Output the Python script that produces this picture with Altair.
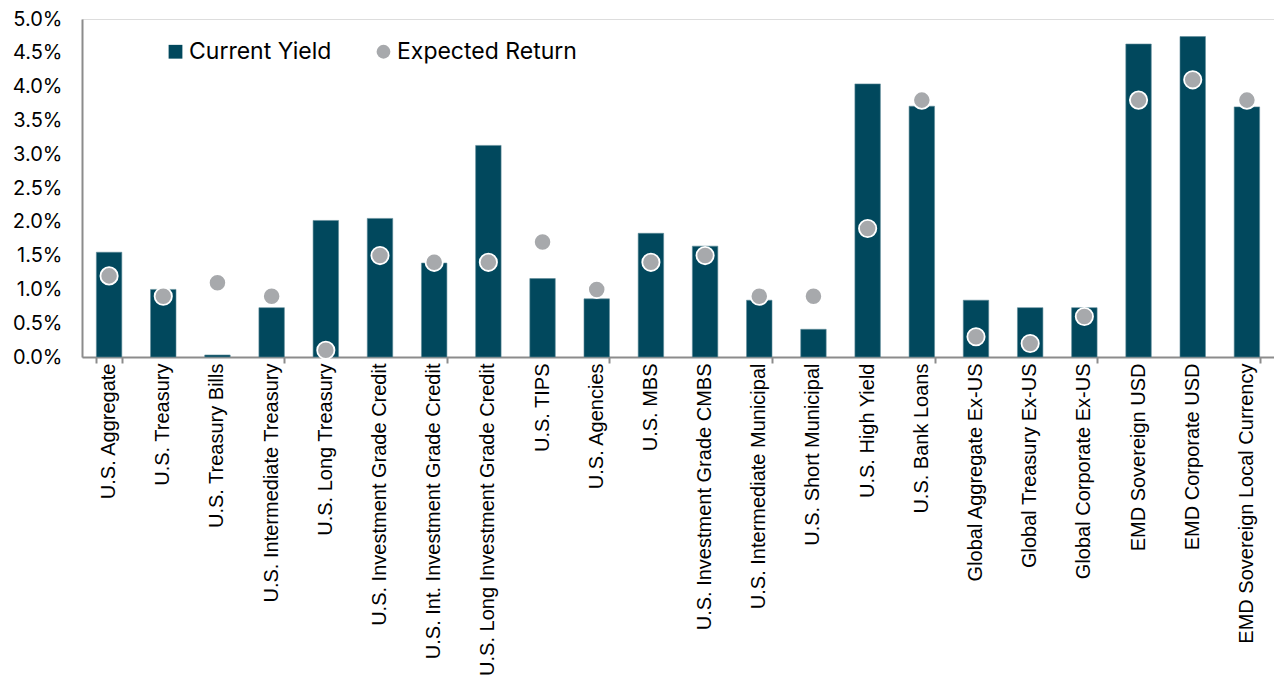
import altair as alt
import pandas as pd

categories = [
    "U.S. Aggregate", "U.S. Treasury", "U.S. Treasury Bills", "U.S. Intermediate Treasury",
    "U.S. Long Treasury", "U.S. Investment Grade Credit", "U.S. Int. Investment Grade Credit",
    "U.S. Long Investment Grade Credit", "U.S. TIPS", "U.S. Agencies", "U.S. MBS",
    "U.S. Investment Grade CMBS", "U.S. Intermediate Municipal", "U.S. Short Municipal",
    "U.S. High Yield", "U.S. Bank Loans", "Global Aggregate Ex-US", "Global Treasury Ex-US",
    "Global Corporate Ex-US", "EMD Sovereign USD", "EMD Corporate USD",
    "EMD Sovereign Local Currency",
]
current_yield = [1.55, 1.0, 0.03, 0.73, 2.02, 2.05, 1.39, 3.13, 1.16, 0.86, 1.83,
                 1.64, 0.84, 0.41, 4.04, 3.71, 0.84, 0.73, 0.73, 4.63, 4.74, 3.70]
expected_return = [1.2, 0.9, 1.1, 0.9, 0.1, 1.5, 1.4, 1.4, 1.7, 1.0, 1.4,
                   1.5, 0.9, 0.9, 1.9, 3.8, 0.3, 0.2, 0.6, 3.8, 4.1, 3.8]
series_names = ["Current Yield", "Expected Return"]
series_colors = ["#01485D", "#A7A9AC"]
y_ticks = [0, 0.5, 1, 1.5, 2, 2.5, 3, 3.5, 4, 4.5, 5]
tick_categories = categories[::3]  # axis ticks every third category boundary

df = pd.DataFrame({
    "category": categories,
    "Current Yield": current_yield,
    "Expected Return": expected_return,
})

FONT = "Inter"
XFONT = "Liberation Sans"

color_scale = alt.Scale(domain=series_names, range=series_colors)
shape_scale = alt.Scale(domain=series_names, range=["square", "circle"])
legend = alt.Legend(
    title=None, orient="none", legendX=82, legendY=21, direction="horizontal",
    labelFontSize=23, labelFont=FONT, labelColor="#000000", symbolSize=190,
    columnPadding=40, labelOffset=2, symbolStrokeWidth=0, labelLimit=500,
)
x_scale = alt.Scale(paddingInner=0.53, paddingOuter=0.265)

# axis carrying the ticks (every third boundary) and the domain line
x_ticks_enc = alt.X(
    "category:N", sort=categories, title=None, scale=x_scale,
    axis=alt.Axis(
        orient="bottom", values=tick_categories, labels=False,
        domainColor="#8c8c8c", domainWidth=2,
        tickBand="extent", tickSize=6, tickWidth=2, tickColor="#8c8c8c",
    ),
)
# axis carrying the labels
x_labels_enc = alt.X(
    "category:N", sort=categories, title=None, scale=x_scale,
    axis=alt.Axis(
        orient="bottom", labelAngle=-90, labelFontSize=20, labelFont=XFONT,
        labelColor="#000000", labelPadding=6, labelLimit=1000,
        domain=False, ticks=False, tickSize=0,
    ),
)
y_enc = alt.Y(
    "value:Q", title=None,
    scale=alt.Scale(domain=[0, 5], nice=False),
    axis=alt.Axis(
        values=y_ticks, labelExpr="format(datum.value, '.1f') + '%'",
        labelFontSize=20, labelFont=FONT, labelColor="#000000",
        ticks=False, tickSize=0, labelPadding=20, grid=False,
        domainColor="#8c8c8c", domainWidth=2,
    ),
)

base = alt.Chart(df).transform_fold(series_names, as_=["series", "value"])

bars = base.transform_filter(alt.datum.series == "Current Yield").mark_bar(
    stroke="#5f8c99", strokeWidth=0.6
).encode(
    x=x_ticks_enc, y=y_enc,
    color=alt.Color("series:N", scale=color_scale, legend=legend),
)

points = base.transform_filter(alt.datum.series == "Expected Return").mark_point(
    filled=True, size=300, stroke="white", strokeWidth=1.8, opacity=1
).encode(
    x=x_labels_enc, y=y_enc,
    color=alt.Color("series:N", scale=color_scale, legend=legend),
    shape=alt.Shape("series:N", scale=shape_scale, legend=legend),
)

chart = alt.layer(bars, points).resolve_axis(x="independent").properties(
    width=1192, height=338,
    autosize=alt.AutoSizeParams(type="none"),
    padding={"left": 74, "top": 11, "right": 0, "bottom": 336},
).configure_view(stroke=None).configure(font=FONT)

chart.save("out.html", embed_options={"renderer": "svg", "actions": False})
